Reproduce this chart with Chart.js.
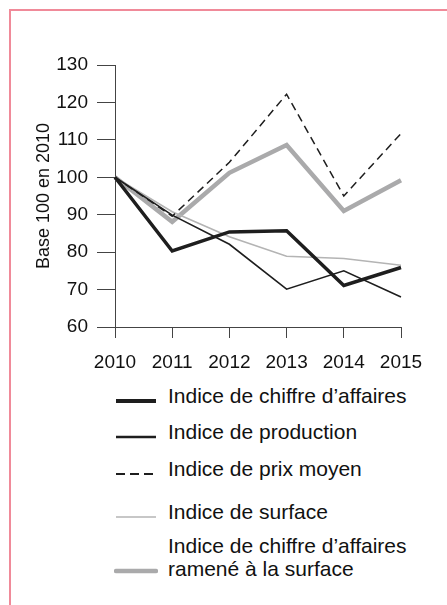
<!DOCTYPE html>
<html>
<head>
<meta charset="utf-8">
<script src="https://cdn.jsdelivr.net/npm/chart.js@4.4.1/dist/chart.umd.min.js"></script>
<style>
  html, body { margin: 0; padding: 0; background: #fff; }
  body { width: 447px; height: 605px; position: relative; overflow: hidden; font-family: "Liberation Sans", Arial, sans-serif; }
  #frame { position: absolute; left: 9px; top: 9px; width: 460px; height: 620px; border-left: 2px solid #f08a99; border-top: 2px solid #f08a99; }
  #wrap { position: absolute; left: 0; top: 0; width: 447px; height: 380px; }
  #legend { position: absolute; left: 114px; top: 384px; color: #111; font-size: 21px; line-height: 23px; }
  .row { display: flex; align-items: flex-end; position: absolute; left: 0; white-space: nowrap; }
  .row svg { flex: none; margin-right: 10px; }
</style>
</head>
<body>
<div id="frame"></div>
<div id="wrap"><canvas id="chart"></canvas></div>
<div id="legend"></div>
<script>
const years = ['2010', '2011', '2012', '2013', '2014', '2015'];

const chiffreAffaires = [100, 80.3, 85.4, 85.7, 71.1, 75.9];
const production = [100, 89.9, 82.1, 70.1, 75.0, 68.0];
const prixMoyen = [100, 89.6, 104.0, 122.2, 95.0, 111.7];
const surface = [100, 90.8, 84.1, 78.9, 78.3, 76.5];
const caSurface = [100, 88.1, 101.2, 108.6, 91.0, 99.2];

const seriesNames = [
    'Indice de chiffre d’affaires',
    'Indice de production',
    'Indice de prix moyen',
    'Indice de surface',
    'Indice de chiffre d’affaires\nramené à la surface'
];
const seriesValues = [chiffreAffaires, production, prixMoyen, surface, caSurface];

// styles
const colors = ['#1e1e1e', '#1e1e1e', '#1e1e1e', '#b4b4b4', '#aaaaab'];
const widths = [3.5, 1.6, 1.5, 1.6, 4.5];
const dashes = [[], [], [8, 5], [], []];
const legendWidths = [4, 2.5, 2, 1.6, 4.5];
const legendDashes = [[], [], [9, 5], [], []];
const legendTops = [0, 36, 73, 116, 150];
const legendLift = [0, 0, 0, 0, 3];

const ctx = document.getElementById('chart').getContext('2d');
new Chart(ctx, {
    type: 'line',
    data: {
        labels: years,
        datasets: seriesValues.map(function(vals, i) {
            return {
                label: seriesNames[i],
                data: vals,
                borderColor: colors[i],
                borderWidth: widths[i],
                borderDash: dashes[i],
                pointRadius: 0,
                tension: 0,
                fill: false
            };
        })
    },
    options: {
        responsive: true,
        maintainAspectRatio: false,
        animation: false,
        layout: { padding: { top: 65, right: 46, left: 0, bottom: 0 } },
        plugins: { legend: { display: false }, tooltip: { enabled: false } },
        scales: {
            x: {
                offset: false,
                grid: { drawOnChartArea: false, drawTicks: true, tickLength: 11, color: '#444' },
                border: { display: true, color: '#444', width: 1 },
                ticks: { color: '#111', padding: 13, font: { size: 19, family: 'Liberation Sans' }, maxRotation: 0 },
                afterFit: function(scale) {
                    scale.height = 53;
                    scale.paddingLeft = 0;
                    scale.paddingRight = 0;
                }
            },
            y: {
                min: 60,
                max: 130,
                grid: { drawOnChartArea: false, drawTicks: true, tickLength: 18, color: '#444' },
                border: { display: true, color: '#444', width: 1 },
                ticks: { stepSize: 10, color: '#111', padding: 9, font: { size: 19, family: 'Liberation Sans' } },
                title: {
                    display: true,
                    text: 'Base 100 en 2010',
                    color: '#111',
                    font: { size: 18, family: 'Liberation Sans' },
                    padding: { top: 33, bottom: 0 }
                },
                afterFit: function(scale) {
                    scale.width = 115;
                    scale.paddingTop = 0;
                    scale.paddingBottom = 0;
                }
            }
        }
    }
});

// legend built from the same series
const legend = document.getElementById('legend');
seriesNames.forEach(function(name, i) {
    const row = document.createElement('div');
    row.className = 'row';
    row.style.top = legendTops[i] + 'px';
    const svg = document.createElementNS('http://www.w3.org/2000/svg', 'svg');
    svg.setAttribute('width', '44');
    svg.setAttribute('height', '12');
    svg.style.marginBottom = legendLift[i] + 'px';
    const line = document.createElementNS('http://www.w3.org/2000/svg', 'line');
    line.setAttribute('x1', '2');
    line.setAttribute('x2', '42');
    line.setAttribute('y1', '6');
    line.setAttribute('y2', '6');
    line.setAttribute('stroke', colors[i]);
    line.setAttribute('stroke-width', legendWidths[i]);
    line.setAttribute('stroke-linecap', i === 4 ? 'round' : 'butt');
    if (legendDashes[i].length) line.setAttribute('stroke-dasharray', legendDashes[i].join(' '));
    svg.appendChild(line);
    const text = document.createElement('div');
    text.innerHTML = name.split('\n').join('<br>');
    row.appendChild(svg);
    row.appendChild(text);
    legend.appendChild(row);
});
</script>
</body>
</html>
